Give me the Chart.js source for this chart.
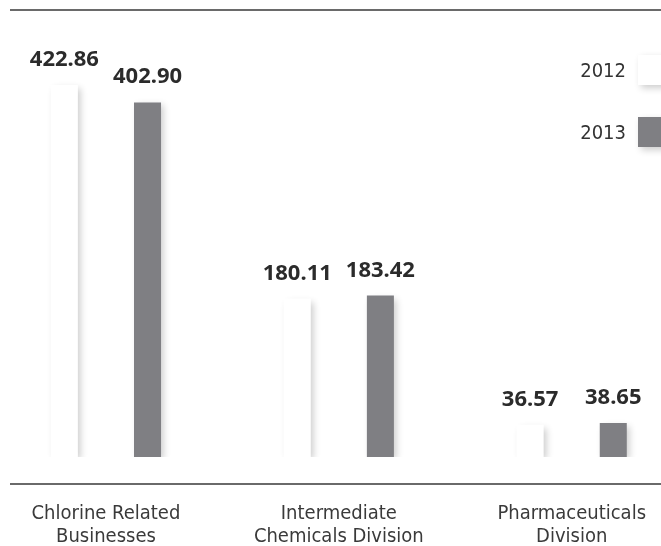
<!DOCTYPE html>
<html>
<head>
<meta charset="utf-8">
<script src="https://cdn.jsdelivr.net/npm/chart.js@4.4.1/dist/chart.umd.min.js"></script>
<style>
  html, body { margin: 0; padding: 0; background: #fff; overflow: hidden; }
  #salesChart { display: block; position: absolute; left: -20px; top: 0; }
</style>
</head>
<body>
<canvas id="salesChart" width="712" height="546"></canvas>
<script>
var categories = [
  ["Chlorine Related", "Businesses"],
  ["Intermediate", "Chemicals Division"],
  ["Pharmaceuticals", "Division"]
];
var years = ["2012", "2013"];
var sales2012 = [422.86, 180.11, 36.57];
var sales2013 = [402.90, 183.42, 38.65];

var labelFont = "'Liberation Sans Narrow', 'DejaVu Sans Condensed', Roboto, sans-serif";
var shift = 20; // canvas sits 20px left of the page edge

function setShadow(ctx) {
  ctx.shadowColor = "rgba(0,0,0,0.2)";
  ctx.shadowBlur = 7;
  ctx.shadowOffsetX = 3;
  ctx.shadowOffsetY = 3;
}

// soft drop shadow under every bar
var barShadow = {
  id: "barShadow",
  beforeDatasetsDraw: function(chart) {
    chart.ctx.save();
    setShadow(chart.ctx);
  },
  afterDatasetsDraw: function(chart) {
    chart.ctx.restore();
  }
};

// values above bars, rules top and bottom, legend on the right
var decorations = {
  id: "decorations",
  afterDraw: function(chart) {
    var ctx = chart.ctx;
    ctx.save();
    ctx.strokeStyle = "#6a6a6a";
    ctx.lineWidth = 2;
    ctx.beginPath();
    ctx.moveTo(10 + shift, 10); ctx.lineTo(chart.width, 10);
    ctx.moveTo(10 + shift, 484); ctx.lineTo(chart.width, 484);
    ctx.stroke();

    ctx.fillStyle = "#2b2b2b";
    ctx.font = "bold 22px 'Noto Sans', sans-serif";
    ctx.textAlign = "center";
    ctx.textBaseline = "alphabetic";
    chart.data.datasets.forEach(function(ds, i) {
      chart.getDatasetMeta(i).data.forEach(function(bar, j) {
        ctx.fillText(ds.data[j].toFixed(2), bar.x, bar.y - 19);
      });
    });

    ctx.font = "20px " + labelFont;
    ctx.textAlign = "right";
    ctx.textBaseline = "middle";
    chart.data.datasets.forEach(function(ds, i) {
      var y = 70 + i * 62;
      ctx.fillStyle = "#333";
      ctx.fillText(ds.label, 626 + shift, y + 2);
      ctx.save();
      setShadow(ctx);
      ctx.fillStyle = ds.backgroundColor;
      ctx.fillRect(638 + shift, y - 15, 27, 30);
      ctx.restore();
    });
    ctx.restore();
  }
};

new Chart("salesChart", {
  type: "bar",
  data: {
    labels: categories,
    datasets: [{
      label: years[0],
      data: sales2012,
      backgroundColor: "#ffffff",
      borderWidth: 0
    }, {
      label: years[1],
      data: sales2013,
      backgroundColor: "#7f7f83",
      borderWidth: 0
    }]
  },
  options: {
    responsive: false,
    animation: false,
    devicePixelRatio: 1,
    categoryPercentage: 0.714,
    barPercentage: 0.325,
    layout: {
      padding: { left: 9.5, right: 0, top: 17, bottom: 0 }
    },
    plugins: {
      legend: { display: false },
      tooltip: { enabled: false }
    },
    scales: {
      x: {
        border: { display: false },
        grid: { display: false, drawTicks: false },
        ticks: {
          maxRotation: 0,
          autoSkip: false,
          padding: 46,
          color: "#3a3a3a",
          font: { family: labelFont, size: 20, lineHeight: 1.12 }
        },
        afterFit: function(scale) { scale.height = 89; }
      },
      y: {
        display: false,
        min: 0,
        max: 500
      }
    }
  },
  plugins: [barShadow, decorations]
});
</script>
</body>
</html>
